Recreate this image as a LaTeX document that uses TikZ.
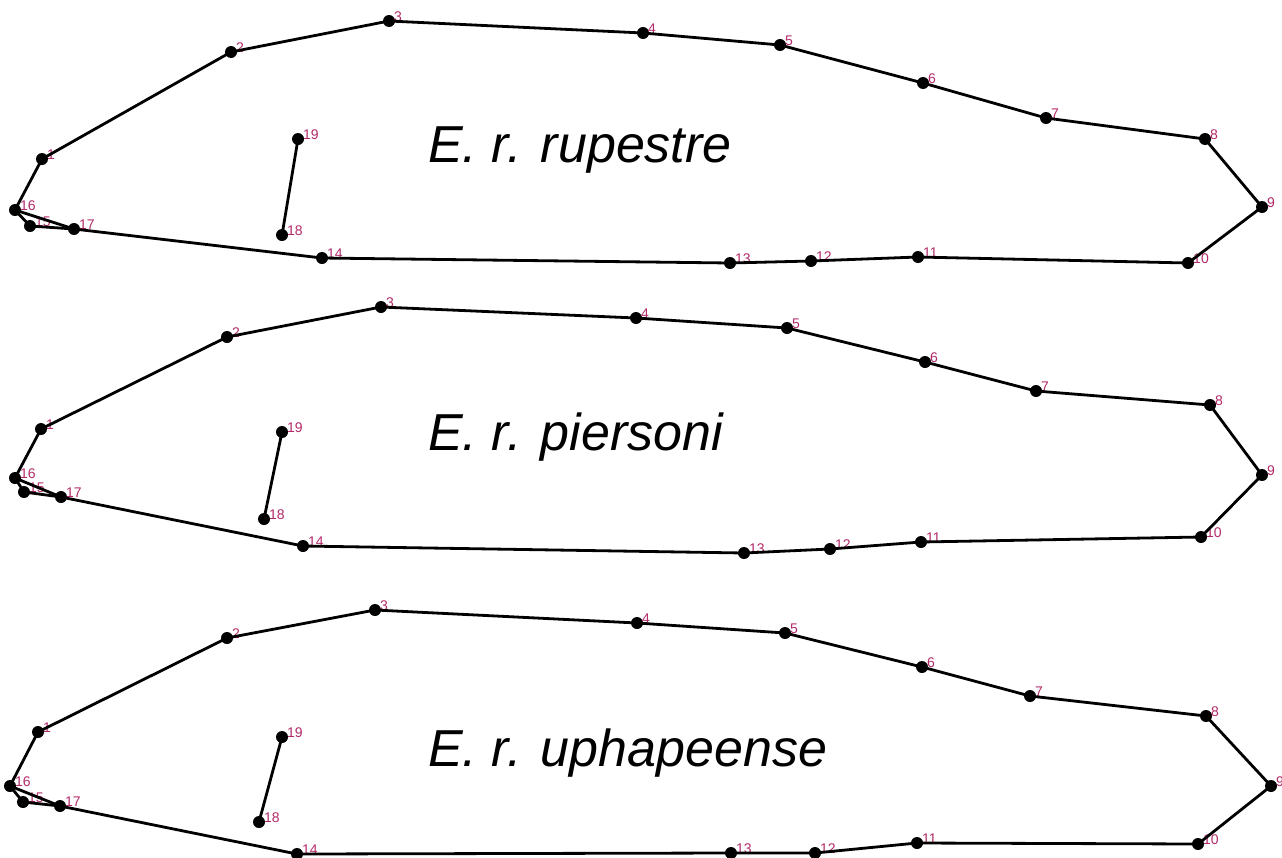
\documentclass[tikz,border=0pt]{standalone}
\usepackage{fontspec}
\setmainfont{Liberation Sans}
\definecolor{numcol}{RGB}{178,42,105}
\tikzset{
  dot/.style={circle,fill=black,inner sep=0pt,minimum size=12pt},
  num/.style={text=numcol,font=\fontsize{14}{16}\selectfont,inner sep=0pt,anchor=base west},
  edge/.style={line width=2.8pt,line join=round,black},
  title/.style={font=\fontsize{52}{60}\selectfont\itshape,inner sep=0pt,anchor=base west}
}
\newcommand\mypts[2]{%
  \foreach \n/\x/\y in {#2}{%
    \node[dot] (#1\n) at (\x,\y) {};
    \node[num] (#1\n l) at (\x+5,\y) {\n};
  }}
\newcommand\myoutline[1]{%
  \draw[edge] (#11.center) -- (#12.center) -- (#13.center) -- (#14.center) -- (#15.center)
    -- (#16.center) -- (#17.center) -- (#18.center) -- (#19.center) -- (#110.center)
    -- (#111.center) -- (#112.center) -- (#113.center) -- (#114.center) -- (#117.center)
    -- (#116.center) -- (#11.center);
  \draw[edge] (#116.center) -- (#115.center) -- (#117.center);
  \draw[edge] (#118.center) -- (#119.center);
}
\begin{document}
\begin{tikzpicture}[x=1pt,y=-1pt]
\useasboundingbox (0,0) rectangle (1282,857);
% rupestre
\mypts{a}{1/42/159,2/231/52,3/389/21,4/643/33,5/780/45,6/923/83,7/1046/118,8/1205/139,9/1262/207,10/1188/263,11/918/257,12/811/261,13/730/263,14/322/258,15/30/226,16/15/210,17/74/229,18/282/235,19/298/139}
\myoutline{a}
\node[title] (ta) at (428,162) {E. r. rupestre};
% piersoni
\mypts{b}{1/41/429,2/227/337,3/381/307,4/636/318,5/787/328,6/925/362,7/1036/391,8/1210/405,9/1262/475,10/1201/537,11/921/542,12/830/549,13/744/553,14/303/546,15/24/492,16/15/478,17/61/497,18/264/519,19/282/432}
\myoutline{b}
\node[title] (tb) at (428,450) {E. r. piersoni};
% uphapeense
\mypts{c}{1/38/732,2/227/638,3/375/610,4/637/623,5/785/633,6/922/667,7/1030/696,8/1206/716,9/1271/786,10/1198/844,11/917/843,12/815/853,13/731/853,14/297/854,15/23/802,16/10/786,17/60/806,18/259/822,19/282/737}
\myoutline{c}
\node[title] (tc) at (428,766) {E. r. uphapeense};
\end{tikzpicture}
\end{document}
